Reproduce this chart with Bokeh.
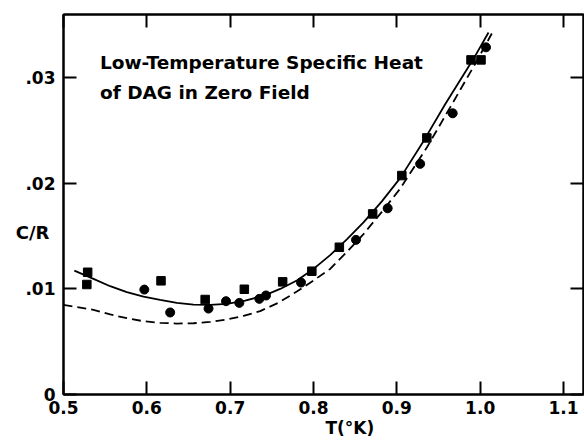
from bokeh.plotting import figure
from bokeh.models import LinearAxis, FixedTicker, Label, Range1d, CustomJSTickFormatter, Title
from bokeh.embed import file_html
from bokeh.resources import INLINE

# Data
sq_T = [0.529, 0.528, 0.617, 0.670, 0.717, 0.763, 0.798, 0.831, 0.871, 0.906, 0.936, 0.989, 1.001]
sq_C = [0.01158, 0.01042, 0.01077, 0.0090, 0.00997, 0.01067, 0.01168, 0.01395, 0.01711, 0.02074, 0.02431, 0.0317, 0.0317]
ci_T = [0.597, 0.628, 0.674, 0.695, 0.711, 0.735, 0.743, 0.785, 0.851, 0.889, 0.928, 0.967, 1.007]
ci_C = [0.00994, 0.00777, 0.00814, 0.00884, 0.00868, 0.00906, 0.00938, 0.01061, 0.01465, 0.01764, 0.02185, 0.02664, 0.03289]

solid_T = [0.513, 0.536, 0.556, 0.576, 0.596, 0.616, 0.636, 0.656, 0.676, 0.696, 0.718, 0.740, 0.760, 0.780, 0.800, 0.820, 0.840, 0.860, 0.882, 0.904, 0.932, 0.958, 0.992, 1.010]
solid_C = [0.01174, 0.01096, 0.01026, 0.00969, 0.00928, 0.00897, 0.00868, 0.00852, 0.00849, 0.00859, 0.0089, 0.00935, 0.0100, 0.0108, 0.0119, 0.0132, 0.0147, 0.0163, 0.0183, 0.0205, 0.0240, 0.0275, 0.0318, 0.0343]
dash_T = [0.500, 0.536, 0.556, 0.576, 0.596, 0.616, 0.636, 0.656, 0.676, 0.696, 0.716, 0.736, 0.758, 0.780, 0.800, 0.820, 0.840, 0.860, 0.882, 0.904, 0.936, 0.964, 0.996, 1.014]
dash_C = [0.00849, 0.00802, 0.00758, 0.00723, 0.00694, 0.00679, 0.00672, 0.00675, 0.00688, 0.00710, 0.00745, 0.0079, 0.0087, 0.00975, 0.0108, 0.0119, 0.0135, 0.0152, 0.0173, 0.0195, 0.0234, 0.0272, 0.0316, 0.0342]

x_ticks = [0.5, 0.6, 0.7, 0.8, 0.9, 1.0, 1.1]
y_ticks = [0.0, 0.01, 0.02, 0.03]

FONT = "DejaVu Sans"

p = figure(width=584, height=444, x_range=Range1d(0.5, 1.124), y_range=Range1d(0, 0.036),
           output_backend="svg", toolbar_location=None,
           min_border_left=63, min_border_right=1, min_border_top=14, min_border_bottom=50)
p.grid.visible = False
p.outline_line_color = "black"
p.outline_line_width = 2
p.background_fill_color = "white"
p.border_fill_color = "white"

bottom = p.below[0]
left = p.left[0]
top = LinearAxis()
right = LinearAxis()
p.add_layout(top, "above")
p.add_layout(right, "right")

for ax in [bottom, top]:
    ax.ticker = FixedTicker(ticks=x_ticks)
for ax in [left, right]:
    ax.ticker = FixedTicker(ticks=y_ticks)

for ax in [bottom, left, top, right]:
    ax.axis_line_width = 2
    ax.axis_line_color = "black"
    ax.major_tick_in = 13
    ax.major_tick_out = 0
    ax.minor_tick_in = 0
    ax.minor_tick_out = 0
    ax.major_tick_line_width = 2
    ax.major_tick_line_color = "black"
    ax.major_label_text_font = FONT
    ax.major_label_text_font_style = "bold"
    ax.major_label_text_font_size = "17px"
    ax.major_label_text_color = "black"

left.formatter = CustomJSTickFormatter(code="return tick == 0 ? '0' : tick.toFixed(2).replace(/^0/, '');")
bottom.formatter = CustomJSTickFormatter(code="return tick.toFixed(1);")
left.major_label_standoff = 8
bottom.major_label_standoff = 6

# y-axis title, horizontal, pushed below the frame middle by two empty lines
left.axis_label = "\u00a0\n\u00a0\nC/R"
left.axis_label_orientation = "horizontal"
left.axis_label_text_font = FONT
left.axis_label_text_font_style = "bold"
left.axis_label_text_font_size = "18px"
left.axis_label_text_color = "black"
left.axis_label_text_line_height = 1.35
left.axis_label_standoff = -27

for ax in [top, right]:
    ax.formatter = CustomJSTickFormatter(code="return '';")
    ax.major_label_text_font_size = "0px"
    ax.major_label_standoff = 0

p.line(dash_T, dash_C, line_color="black", line_width=1.8, line_dash="9 5")
p.line(solid_T, solid_C, line_color="black", line_width=1.8)
p.scatter(sq_T, sq_C, marker="square", size=8.5, color="black")
p.scatter(ci_T, ci_C, marker="circle", size=9, color="black")

title1 = Label(x=0.5438, y=0.03144, text="Low-Temperature Specific Heat", text_baseline="middle",
               text_font=FONT, text_font_style="bold", text_font_size="18.5px", text_color="black")
title2 = Label(x=0.5438, y=0.0286, text="of DAG in Zero Field", text_baseline="middle",
               text_font=FONT, text_font_style="bold", text_font_size="18.5px", text_color="black")
p.add_layout(title1)
p.add_layout(title2)

xlab = Title(text="T(°K)", align="left", offset=262, standoff=0, vertical_align="middle",
             text_font=FONT, text_font_style="bold", text_font_size="17px", text_color="black")
p.add_layout(xlab, "below")

open("out.html", "w").write(file_html(p, INLINE))
